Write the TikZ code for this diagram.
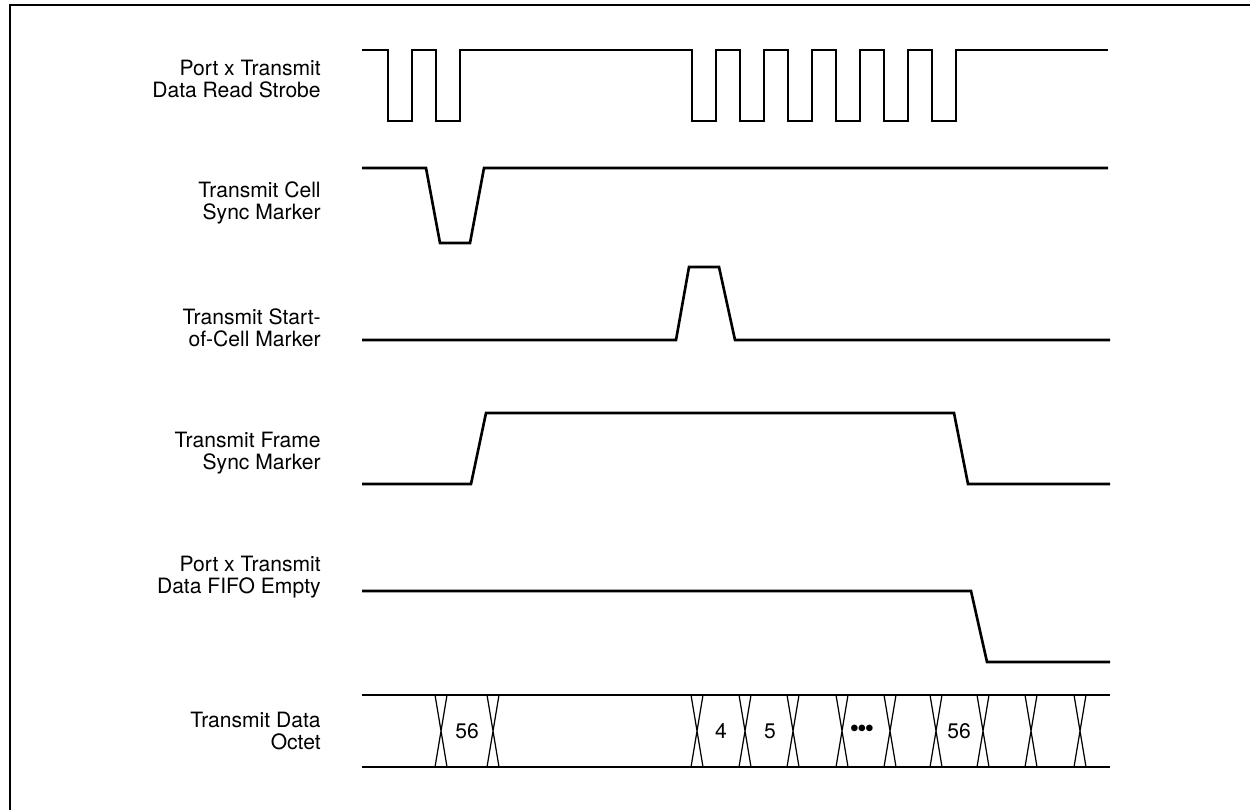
\documentclass[tikz,border=0pt]{standalone}
\usepackage{fontspec}
\setmainfont{TeX Gyre Heros}
\begin{document}
\begin{tikzpicture}[x=0.02cm,y=-0.02cm,
    wave/.style={line width=1.5pt,line join=miter},
    edge/.style={line width=1.1pt},
    xover/.style={line width=0.7pt},
    siglabel/.style={anchor=east,align=right,inner sep=0pt,font=\fontsize{12}{12.3}\selectfont},
    octet/.style={inner sep=0pt,font=\fontsize{12}{12.3}\selectfont}]
\useasboundingbox (0,0) rectangle (1250,810);
% Frame round the figure (top and left only)
\draw[edge] (10,810) -- (10,5) -- (1250,5);
% Signal names
\node[siglabel] (strobe) at (321,79) {Port x Transmit\\Data Read Strobe};
\node[siglabel] (cellsync) at (321,203) {Transmit Cell\\Sync Marker};
\node[siglabel] (startcell) at (321,328) {Transmit Start-\\of-Cell Marker};
\node[siglabel] (framesync) at (321,453) {Transmit Frame\\Sync Marker};
\node[siglabel] (fifoempty) at (321,577) {Port x Transmit\\Data FIFO Empty};
\node[siglabel] (dataoctet) at (321,731) {Transmit Data\\Octet};
% Read strobe pulses
\draw[wave] (362,50) foreach \a in {388,436,692,740,788,836,884,932} {
    -- (\a,50) -- (\a,121) -- ({\a+24},121) -- ({\a+24},50) } -- (1108,50);
% Cell sync marker
\draw[wave] (362,168) -- (426,168) -- (440,243) -- (470,243) -- (484,168) -- (1108,168);
% Start-of-cell marker
\draw[wave] (362,340) -- (676,340) -- (689,267) -- (719,267) -- (735,340) -- (1110,340);
% Frame sync marker
\draw[wave] (362,484) -- (471,484) -- (486,413) -- (954,413) -- (968,484) -- (1110,484);
% FIFO empty
\draw[wave] (362,591) -- (971,591) -- (987,662) -- (1110,662);
% Data octet bus
\draw[wave] (362,695) -- (1110,695);
\draw[wave] (362,767) -- (1110,767);
\foreach \c in {441,493,697,745,793,842,890,936,983,1031,1080}
  \draw[xover] ({\c-6},695) -- ({\c+6},767) ({\c+6},695) -- ({\c-6},767);
\node[octet] (oct56a) at (467,731) {56};
\node[octet] (oct4) at (721,731) {4};
\node[octet] (oct5) at (770,731) {5};
\node[octet,font=\fontsize{15}{15}\selectfont] (octdots) at (862,731) {\textbullet\kern-1pt\textbullet\kern-1pt\textbullet};
\node[octet] (oct56b) at (959,731) {56};
\end{tikzpicture}
\end{document}
